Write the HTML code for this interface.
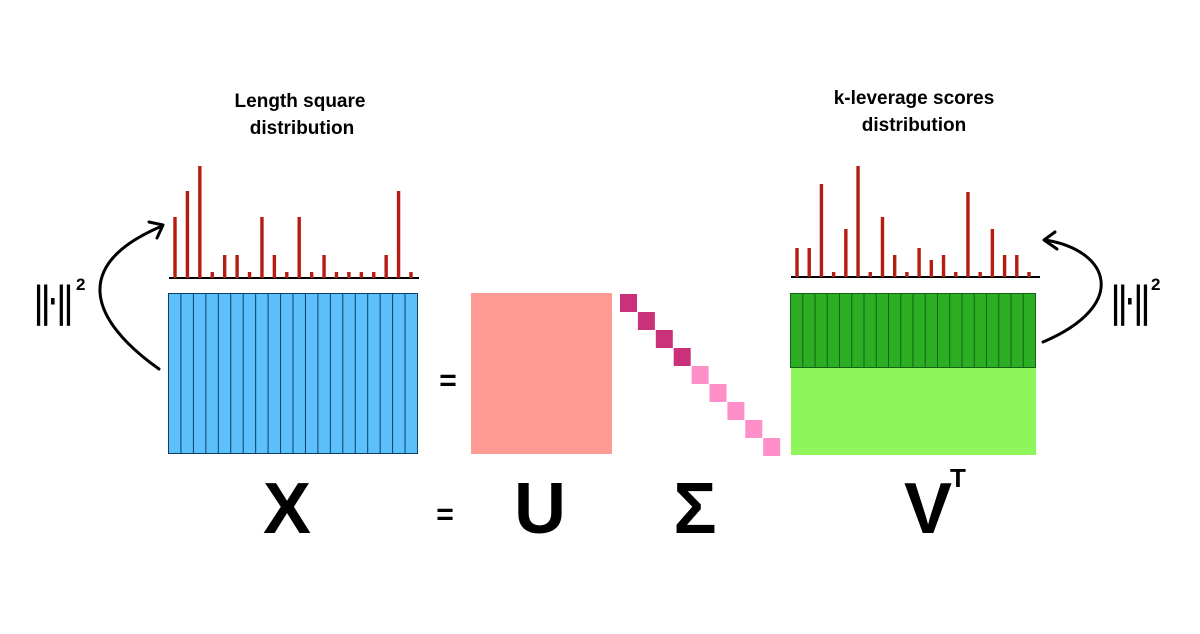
<!DOCTYPE html>
<html><head><meta charset="utf-8"><style>
html,body{margin:0;padding:0;background:#fff;}
svg{display:block;font-family:"Liberation Sans",Arial,sans-serif;}
</style></head><body>
<svg id="s" width="1200" height="634" viewBox="0 0 1200 634">
<rect width="1200" height="634" fill="#fff"/>
<g font-weight="bold" font-size="19" text-anchor="middle" fill="#000">
<text x="300" y="107">Length square</text>
<text x="302" y="134">distribution</text>
<text x="914" y="104">k-leverage scores</text>
<text x="914" y="131">distribution</text>
</g>
<g id="leftBars"></g>
<g id="rightBars"></g>
<g id="mats"></g>
<g font-weight="bold" fill="#000" text-anchor="middle">
<text x="287" y="533" font-size="72">X</text>
<text x="445" y="524" font-size="30">=</text>
<text x="448" y="390" font-size="30">=</text>
<text x="540" y="533" font-size="72">U</text>
<text x="695" y="533" font-size="72">Σ</text>
<text x="928" y="533" font-size="72">V</text>
<text x="958" y="487" font-size="26">T</text>
</g>
<g fill="#000" font-weight="bold">
<text x="35" y="316" font-size="44" textLength="37" lengthAdjust="spacingAndGlyphs">||·||</text>
<text x="76" y="290" font-size="17">2</text>
<text x="1112" y="316" font-size="44" textLength="37" lengthAdjust="spacingAndGlyphs">||·||</text>
<text x="1151" y="290" font-size="17">2</text>
</g>
<g fill="none" stroke="#000" stroke-width="3" stroke-linecap="round" stroke-linejoin="round">
<path d="M159,369 C90,320 70,265 162,226"/>
<path d="M149,222 L163,225 L157,238"/>
<path d="M1043,342 C1130,305 1110,250 1045,240"/>
<path d="M1055,232 L1044,240 L1057,249"/>
</g>
</svg>
<script>
const leftValues=[61,87,112,6,23,23,6,61,23,6,61,6,23,6,6,6,6,23,87,6];
const rightValues=[29,29,93,5,48,111,5,60,22,5,29,17,22,5,85,5,48,22,22,5];
const NS='http://www.w3.org/2000/svg';
function mk(tag,attrs,parent){const e=document.createElementNS(NS,tag);for(const k in attrs)e.setAttribute(k,attrs[k]);parent.appendChild(e);return e;}
function chart(g,vals,x0,x1,base,axL,axR){
  const step=(x1-x0)/(vals.length-1);
  const ln=mk('line',{x1:axL,x2:axR,y1:base,y2:base,stroke:'#000','stroke-width':2},g);
  
  
  vals.forEach((v,i)=>{
    const r=mk('rect',{x:x0+i*step-1.7,y:base-v,width:3.4,height:v,fill:'#b51c12'},g);
    
    
  });
}
chart(document.getElementById('leftBars'),leftValues,175,411,278,169,419);
chart(document.getElementById('rightBars'),rightValues,797,1029,277,791,1040);
const m=document.getElementById('mats');
function cols(x,y,w,h,n,fill,stroke,name){
  const r=mk('rect',{x:x,y:y,width:w,height:h,fill:fill,stroke:stroke,'stroke-width':1},m);
  
  
  for(let i=1;i<n;i++){const cx=x+i*w/n;const l=mk('line',{x1:cx,x2:cx,y1:y,y2:y+h,stroke:stroke,'stroke-width':1},m);
    
    }
}
cols(168.5,293.5,249,160,20,'#5bc0fb','#0e3d66','x-matrix');
const u=mk('rect',{x:471,y:293,width:141,height:161,fill:'#fe9b94'},m);


const lg=mk('rect',{x:791,y:368,width:245,height:87,fill:'#8ef55a'},m);


cols(790.5,293.5,245,74,20,'#2bae21','#11631a','vt-matrix-top');
for(let i=0;i<9;i++){
  const s=mk('rect',{x:620+i*17.9,y:294+i*18,width:17,height:18,fill:i<4?'#cb317b':'#fe8fc8'},m);
  
  
}
</script>
</body></html>
